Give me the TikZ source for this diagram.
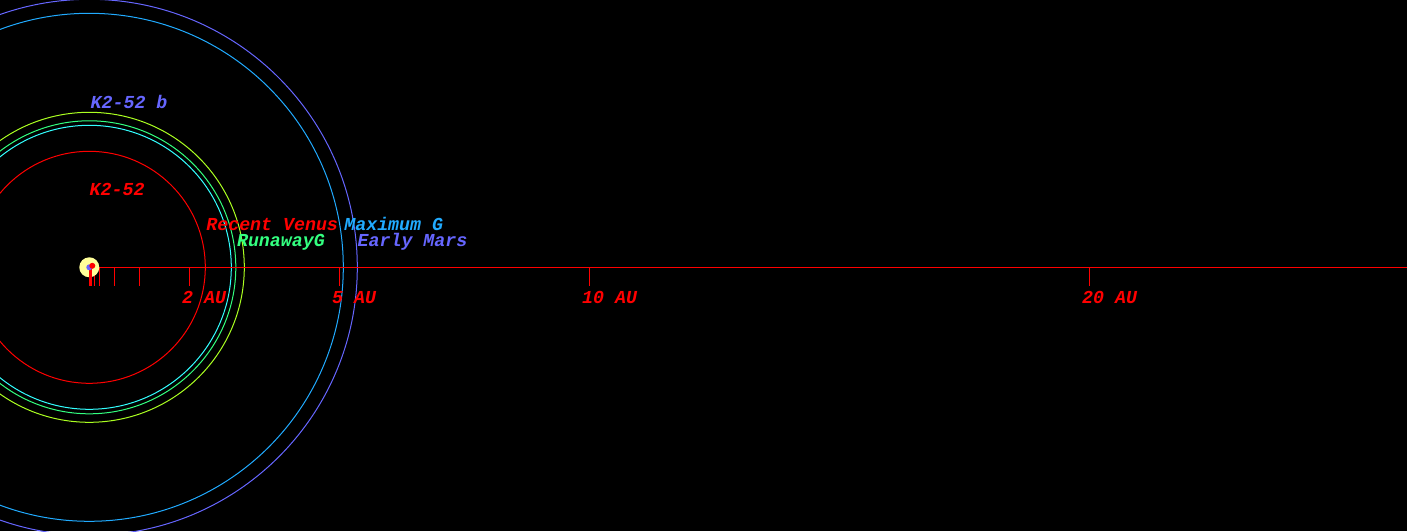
\documentclass[tikz,border=0pt]{standalone}
\usepackage{fontspec}
\setmonofont{Liberation Mono}
\definecolor{hzred}{rgb}{1,0,0}
\definecolor{hzcyan}{rgb}{0.2,1,1}
\definecolor{hzgreen}{rgb}{0.2,1,0.5}
\definecolor{hzlime}{rgb}{0.67,1,0.13}
\definecolor{hzblue}{rgb}{0.13,0.67,1}
\definecolor{hzviolet}{rgb}{0.4,0.4,1}
\definecolor{starcol}{rgb}{1,1,0.6}
\tikzset{every node/.style={inner sep=0pt, font=\ttfamily\bfseries\itshape\fontsize{10.4}{12}\selectfont}}
\tikzset{orbit/.style={line width=0.57pt}}

\begin{document}
\begin{tikzpicture}[x=1cm,y=1cm]
		\useasboundingbox (-1.786,-5.274) rectangle (26.354,5.346);
		\fill[black] (-1.786,-5.274) rectangle (26.354,5.346);
		\draw[orbit, hzred] (0,0) circle (2.32);
		\draw[orbit, hzcyan] (0,0) circle (2.84);
		\draw[orbit, hzgreen] (0,0) circle (2.93);
		\draw[orbit, hzlime] (0,0) circle (3.10);
		\draw[orbit, hzblue] (0,0) circle (5.08);
		\draw[orbit, hzviolet] (0,0) circle (5.36);
		\draw[orbit, hzred] (0,0) -- (26.354,0);
		\foreach \x in {0.1,0.2,0.5,1}{
			\draw[orbit, hzred] (\x,0)--(\x,-0.37);
		}
		\foreach \x in {2,5,10,20}{
			\draw[orbit, hzred] (\x,0)--(\x,-0.37) node[anchor=base west, text=hzred] (au\x) at (\x-0.152,-0.72) {{\x} AU};
		}
		\fill[starcol] (0,0) circle (0.2);
		\fill[hzred] (0,0) rectangle (0.05,-0.38);
		\fill[hzviolet] (0,0) circle (0.06);
		\fill[hzred] (0.06,0.03) circle (0.06);
		\node[anchor=base west, text=hzviolet] (planet) at (0.02,3.18) {K2-52 b};
		\node[anchor=base west, text=hzred] (star) at (0,1.432) {K2-52};
		\node[anchor=base west, text=hzred] (venus) at (2.334,0.732) {Recent Venus};
		\node[anchor=base west, text=hzblue] (maxg) at (5.094,0.732) {Maximum G};
		\node[anchor=base west, text=hzgreen] (runaway) at (2.948,0.412) {RunawayG};
		\node[anchor=base west, text=hzviolet] (mars) at (5.36,0.412) {Early Mars};
	\end{tikzpicture}
\end{document}
